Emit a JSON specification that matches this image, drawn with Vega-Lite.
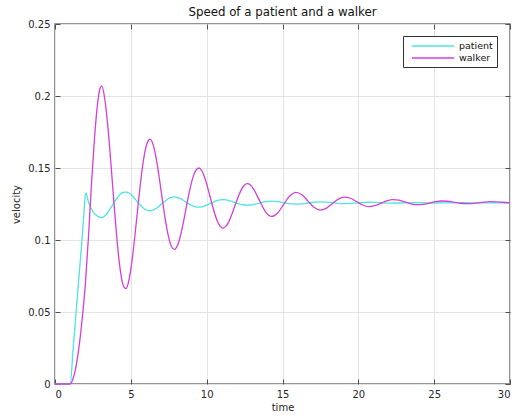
{
  "$schema": "https://vega.github.io/schema/vega-lite/v6.json",
  "width": 455,
  "height": 360,
  "autosize": {"type": "none"},
  "padding": {"left": 55, "top": 24, "right": 7, "bottom": 33},
  "background": "white",
  "title": {"text": "Speed of a patient and a walker", "fontSize": 11.8, "fontWeight": "normal", "color": "#111111", "offset": 0, "anchor": "middle"},
  "config": {
    "font": "DejaVu Sans",
    "view": {"stroke": "#707070", "strokeWidth": 1.5},
    "axis": {"labelFontSize": 10, "labelColor": "#262626", "titleFontSize": 10, "titleFontWeight": "normal", "titleColor": "#262626", "gridColor": "#e4e4e4", "gridWidth": 1, "tickColor": "#505050", "domain": false}
  },
  "layer": [
    {
      "data": {"values": [
        {"t":0,"v":0,"s":"patient"},{"t":1.0,"v":0,"s":"patient"},{"t":1.2,"v":0.025,"s":"patient"},{"t":1.4,"v":0.051,"s":"patient"},{"t":1.6,"v":0.077,"s":"patient"},{"t":1.8,"v":0.103,"s":"patient"},{"t":1.9,"v":0.117,"s":"patient"},{"t":2.0,"v":0.1315,"s":"patient"},{"t":2.05,"v":0.1325,"s":"patient"},{"t":2.2,"v":0.1265,"s":"patient"},{"t":2.4,"v":0.1215,"s":"patient"},{"t":2.6,"v":0.1183,"s":"patient"},{"t":2.8,"v":0.1166,"s":"patient"},{"t":2.96,"v":0.1158,"s":"patient"},{"t":3.08,"v":0.1156,"s":"patient"},{"t":3.28,"v":0.1167,"s":"patient"},{"t":3.48,"v":0.1191,"s":"patient"},{"t":3.68,"v":0.1223,"s":"patient"},{"t":3.88,"v":0.1257,"s":"patient"},{"t":4.08,"v":0.1289,"s":"patient"},{"t":4.28,"v":0.1315,"s":"patient"},{"t":4.48,"v":0.133,"s":"patient"},{"t":4.68,"v":0.1333,"s":"patient"},{"t":4.88,"v":0.1326,"s":"patient"},{"t":5.08,"v":0.1309,"s":"patient"},{"t":5.28,"v":0.1285,"s":"patient"},{"t":5.48,"v":0.126,"s":"patient"},{"t":5.68,"v":0.1236,"s":"patient"},{"t":5.88,"v":0.1217,"s":"patient"},{"t":6.08,"v":0.1206,"s":"patient"},{"t":6.28,"v":0.1203,"s":"patient"},{"t":6.48,"v":0.1208,"s":"patient"},{"t":6.68,"v":0.122,"s":"patient"},{"t":6.88,"v":0.1237,"s":"patient"},{"t":7.08,"v":0.1256,"s":"patient"},{"t":7.28,"v":0.1273,"s":"patient"},{"t":7.48,"v":0.1288,"s":"patient"},{"t":7.68,"v":0.1296,"s":"patient"},{"t":7.88,"v":0.1299,"s":"patient"},{"t":8.08,"v":0.1295,"s":"patient"},{"t":8.28,"v":0.1287,"s":"patient"},{"t":8.48,"v":0.1274,"s":"patient"},{"t":8.68,"v":0.126,"s":"patient"},{"t":8.88,"v":0.1247,"s":"patient"},{"t":9.08,"v":0.1237,"s":"patient"},{"t":9.28,"v":0.123,"s":"patient"},{"t":9.48,"v":0.1228,"s":"patient"},{"t":9.68,"v":0.123,"s":"patient"},{"t":9.88,"v":0.1237,"s":"patient"},{"t":10.08,"v":0.1246,"s":"patient"},{"t":10.28,"v":0.1256,"s":"patient"},{"t":10.48,"v":0.1265,"s":"patient"},{"t":10.68,"v":0.1274,"s":"patient"},{"t":10.88,"v":0.1279,"s":"patient"},{"t":11.08,"v":0.128,"s":"patient"},{"t":11.28,"v":0.1279,"s":"patient"},{"t":11.48,"v":0.1274,"s":"patient"},{"t":11.68,"v":0.1268,"s":"patient"},{"t":11.88,"v":0.126,"s":"patient"},{"t":12.08,"v":0.1253,"s":"patient"},{"t":12.28,"v":0.1247,"s":"patient"},{"t":12.48,"v":0.1243,"s":"patient"},{"t":12.68,"v":0.1242,"s":"patient"},{"t":12.88,"v":0.1243,"s":"patient"},{"t":13.08,"v":0.1246,"s":"patient"},{"t":13.48,"v":0.1256,"s":"patient"},{"t":13.88,"v":0.1266,"s":"patient"},{"t":14.28,"v":0.127,"s":"patient"},{"t":14.68,"v":0.1267,"s":"patient"},{"t":15.08,"v":0.126,"s":"patient"},{"t":15.48,"v":0.1252,"s":"patient"},{"t":15.88,"v":0.1249,"s":"patient"},{"t":16.28,"v":0.1251,"s":"patient"},{"t":16.68,"v":0.1257,"s":"patient"},{"t":17.08,"v":0.1262,"s":"patient"},{"t":17.48,"v":0.1265,"s":"patient"},{"t":17.88,"v":0.1263,"s":"patient"},{"t":18.28,"v":0.1259,"s":"patient"},{"t":18.68,"v":0.1255,"s":"patient"},{"t":19.08,"v":0.1253,"s":"patient"},{"t":19.48,"v":0.1254,"s":"patient"},{"t":19.88,"v":0.1257,"s":"patient"},{"t":20.28,"v":0.126,"s":"patient"},{"t":20.68,"v":0.1262,"s":"patient"},{"t":21.08,"v":0.1261,"s":"patient"},{"t":21.48,"v":0.1259,"s":"patient"},{"t":22.0,"v":0.1256,"s":"patient"},{"t":23.0,"v":0.1258,"s":"patient"},{"t":24.0,"v":0.1259,"s":"patient"},{"t":25.0,"v":0.1257,"s":"patient"},{"t":26.0,"v":0.1258,"s":"patient"},{"t":27.0,"v":0.1259,"s":"patient"},{"t":28.0,"v":0.1258,"s":"patient"},{"t":30.0,"v":0.1258,"s":"patient"},
        {"t":0,"v":0,"s":"walker"},{"t":1.0,"v":0,"s":"walker"},{"t":1.2,"v":0.004,"s":"walker"},{"t":1.4,"v":0.013,"s":"walker"},{"t":1.6,"v":0.027,"s":"walker"},{"t":1.8,"v":0.046,"s":"walker"},{"t":2.0,"v":0.069,"s":"walker"},{"t":2.2,"v":0.101,"s":"walker"},{"t":2.4,"v":0.138,"s":"walker"},{"t":2.6,"v":0.17,"s":"walker"},{"t":2.8,"v":0.194,"s":"walker"},{"t":2.96,"v":0.205,"s":"walker"},{"t":3.08,"v":0.207,"s":"walker"},{"t":3.28,"v":0.1981,"s":"walker"},{"t":3.48,"v":0.1794,"s":"walker"},{"t":3.68,"v":0.1542,"s":"walker"},{"t":3.88,"v":0.1267,"s":"walker"},{"t":4.08,"v":0.1011,"s":"walker"},{"t":4.28,"v":0.081,"s":"walker"},{"t":4.48,"v":0.0691,"s":"walker"},{"t":4.68,"v":0.0662,"s":"walker"},{"t":4.88,"v":0.0724,"s":"walker"},{"t":5.08,"v":0.0858,"s":"walker"},{"t":5.28,"v":0.1042,"s":"walker"},{"t":5.48,"v":0.1244,"s":"walker"},{"t":5.68,"v":0.1434,"s":"walker"},{"t":5.88,"v":0.1585,"s":"walker"},{"t":6.08,"v":0.1676,"s":"walker"},{"t":6.28,"v":0.1701,"s":"walker"},{"t":6.48,"v":0.1659,"s":"walker"},{"t":6.68,"v":0.1562,"s":"walker"},{"t":6.88,"v":0.1428,"s":"walker"},{"t":7.08,"v":0.1279,"s":"walker"},{"t":7.28,"v":0.1138,"s":"walker"},{"t":7.48,"v":0.1025,"s":"walker"},{"t":7.68,"v":0.0955,"s":"walker"},{"t":7.88,"v":0.0935,"s":"walker"},{"t":8.08,"v":0.0963,"s":"walker"},{"t":8.28,"v":0.1033,"s":"walker"},{"t":8.48,"v":0.1131,"s":"walker"},{"t":8.68,"v":0.1241,"s":"walker"},{"t":8.88,"v":0.1345,"s":"walker"},{"t":9.08,"v":0.143,"s":"walker"},{"t":9.28,"v":0.1483,"s":"walker"},{"t":9.48,"v":0.15,"s":"walker"},{"t":9.68,"v":0.1481,"s":"walker"},{"t":9.88,"v":0.143,"s":"walker"},{"t":10.08,"v":0.1359,"s":"walker"},{"t":10.28,"v":0.1279,"s":"walker"},{"t":10.48,"v":0.1201,"s":"walker"},{"t":10.68,"v":0.1137,"s":"walker"},{"t":10.88,"v":0.1097,"s":"walker"},{"t":11.08,"v":0.1083,"s":"walker"},{"t":11.28,"v":0.1096,"s":"walker"},{"t":11.48,"v":0.1131,"s":"walker"},{"t":11.68,"v":0.1184,"s":"walker"},{"t":11.88,"v":0.1243,"s":"walker"},{"t":12.08,"v":0.1301,"s":"walker"},{"t":12.28,"v":0.1348,"s":"walker"},{"t":12.48,"v":0.138,"s":"walker"},{"t":12.68,"v":0.1391,"s":"walker"},{"t":12.88,"v":0.1382,"s":"walker"},{"t":13.08,"v":0.1356,"s":"walker"},{"t":13.48,"v":0.1275,"s":"walker"},{"t":13.88,"v":0.1196,"s":"walker"},{"t":14.28,"v":0.1164,"s":"walker"},{"t":14.68,"v":0.1188,"s":"walker"},{"t":15.08,"v":0.1248,"s":"walker"},{"t":15.48,"v":0.1306,"s":"walker"},{"t":15.88,"v":0.1331,"s":"walker"},{"t":16.28,"v":0.1314,"s":"walker"},{"t":16.68,"v":0.127,"s":"walker"},{"t":17.08,"v":0.1227,"s":"walker"},{"t":17.48,"v":0.1208,"s":"walker"},{"t":17.88,"v":0.122,"s":"walker"},{"t":18.28,"v":0.1252,"s":"walker"},{"t":18.68,"v":0.1284,"s":"walker"},{"t":19.08,"v":0.1298,"s":"walker"},{"t":19.48,"v":0.129,"s":"walker"},{"t":19.88,"v":0.1267,"s":"walker"},{"t":20.28,"v":0.1243,"s":"walker"},{"t":20.68,"v":0.1232,"s":"walker"},{"t":21.08,"v":0.1238,"s":"walker"},{"t":21.48,"v":0.1254,"s":"walker"},{"t":21.88,"v":0.1272,"s":"walker"},{"t":22.28,"v":0.1281,"s":"walker"},{"t":22.68,"v":0.1277,"s":"walker"},{"t":23.08,"v":0.1264,"s":"walker"},{"t":23.48,"v":0.1251,"s":"walker"},{"t":23.88,"v":0.1245,"s":"walker"},{"t":24.28,"v":0.1247,"s":"walker"},{"t":24.68,"v":0.1256,"s":"walker"},{"t":25.08,"v":0.1266,"s":"walker"},{"t":25.48,"v":0.1271,"s":"walker"},{"t":25.88,"v":0.1269,"s":"walker"},{"t":26.28,"v":0.1263,"s":"walker"},{"t":26.68,"v":0.1256,"s":"walker"},{"t":27.08,"v":0.1252,"s":"walker"},{"t":27.48,"v":0.1253,"s":"walker"},{"t":27.88,"v":0.1258,"s":"walker"},{"t":28.28,"v":0.1263,"s":"walker"},{"t":28.68,"v":0.1266,"s":"walker"},{"t":29.08,"v":0.1265,"s":"walker"},{"t":29.48,"v":0.1262,"s":"walker"},{"t":30.0,"v":0.1258,"s":"walker"}
      ]},
      "mark": {"type": "line", "interpolate": "monotone", "strokeWidth": 1.3},
      "encoding": {
        "x": {"field": "t", "type": "quantitative", "scale": {"domain": [0, 30], "nice": false},
              "axis": {"title": "time", "values": [0, 5, 10, 15, 20, 25, 30], "tickSize": -5, "labelPadding": 10, "titlePadding": 3, "grid": true}},
        "y": {"field": "v", "type": "quantitative", "scale": {"domain": [0, 0.25], "nice": false},
              "axis": {"title": "velocity", "values": [0, 0.05, 0.1, 0.15, 0.2, 0.25], "format": ".2~f", "tickSize": -5, "labelPadding": 10, "titlePadding": 6, "grid": true}},
        "color": {"field": "s", "type": "nominal", "scale": {"domain": ["patient", "walker"], "range": ["#4fe3e3", "#d43fd6"]},
                  "legend": {"title": null, "orient": "none", "legendX": 348, "legendY": 12, "symbolType": "M-1,0L7.4,0", "symbolSize": 100, "symbolStrokeWidth": 1.3, "symbolOffset": 4, "labelFontSize": 9.5, "labelColor": "#111111", "labelOffset": 36, "padding": 4, "rowPadding": 1, "strokeColor": "#333333", "fillColor": "white"}}
      }
    },
    {
      "data": {"values": [{"t": 0, "v": 0}]},
      "mark": {"type": "point", "opacity": 0},
      "encoding": {
        "x": {"field": "t", "type": "quantitative", "scale": {"domain": [0, 30], "nice": false},
              "axis": {"orient": "top", "title": null, "labels": false, "grid": false, "values": [0, 5, 10, 15, 20, 25, 30], "tickSize": -5}},
        "y": {"field": "v", "type": "quantitative", "scale": {"domain": [0, 0.25], "nice": false},
              "axis": {"orient": "right", "title": null, "labels": false, "grid": false, "values": [0, 0.05, 0.1, 0.15, 0.2, 0.25], "tickSize": -5}}
      }
    }
  ],
  "resolve": {"axis": {"x": "independent", "y": "independent"}}
}
